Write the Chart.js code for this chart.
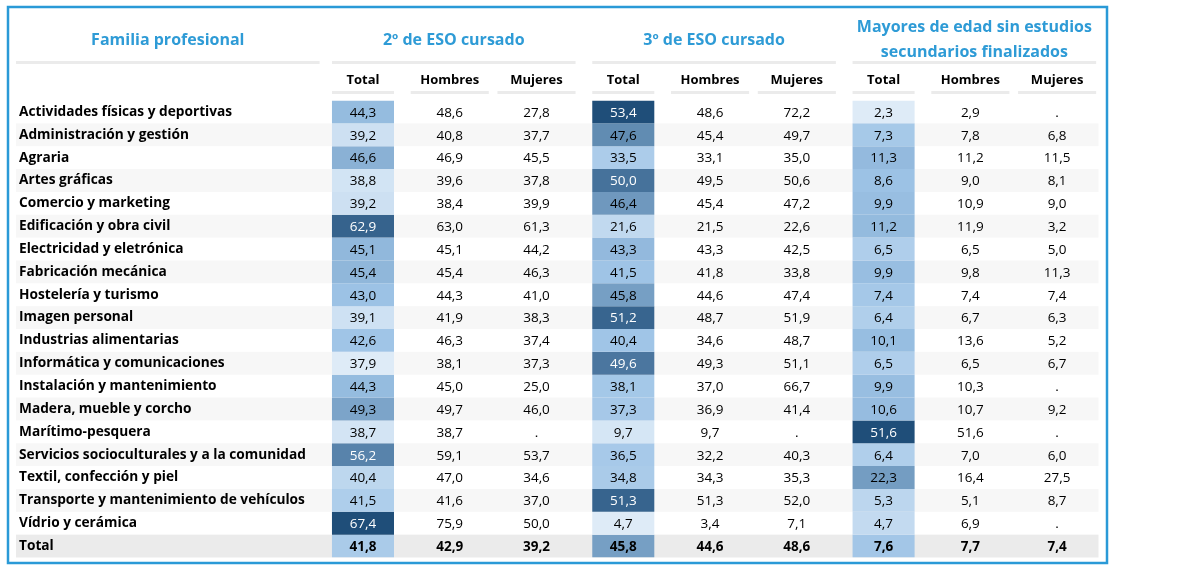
<!DOCTYPE html>
<html>
<head>
<meta charset="utf-8">
<script src="https://cdn.jsdelivr.net/npm/chart.js@4.4.1/dist/chart.umd.min.js"></script>
<style>
  html, body { margin: 0; padding: 0; background: #fff; }
  #wrap { width: 1180px; height: 572px; position: relative; }
</style>
</head>
<body>
<div id="wrap"><canvas id="tabla"></canvas></div>
<script>
// rows (familia profesional) + total
const familias = [
  'Actividades físicas y deportivas', 'Administración y gestión', 'Agraria', 'Artes gráficas',
  'Comercio y marketing', 'Edificación y obra civil', 'Electricidad y eletrónica', 'Fabricación mecánica',
  'Hostelería y turismo', 'Imagen personal', 'Industrias alimentarias', 'Informática y comunicaciones',
  'Instalación y mantenimiento', 'Madera, mueble y corcho', 'Marítimo-pesquera',
  'Servicios socioculturales y a la comunidad', 'Textil, confección y piel',
  'Transporte y mantenimiento de vehículos', 'Vídrio y cerámica', 'Total'
]
const columnas = ['Total', 'Hombres', 'Mujeres', 'Total', 'Hombres', 'Mujeres', 'Total', 'Hombres', 'Mujeres']
const grupos = [['2º de ESO cursado'], ['3º de ESO cursado'], ['Mayores de edad sin estudios', 'secundarios finalizados']]
const tituloFamilia = 'Familia profesional'

// null = '.' (sin dato)
const eso2Total   = [44.3, 39.2, 46.6, 38.8, 39.2, 62.9, 45.1, 45.4, 43.0, 39.1, 42.6, 37.9, 44.3, 49.3, 38.7, 56.2, 40.4, 41.5, 67.4, 41.8]
const eso2Hombres = [48.6, 40.8, 46.9, 39.6, 38.4, 63.0, 45.1, 45.4, 44.3, 41.9, 46.3, 38.1, 45.0, 49.7, 38.7, 59.1, 47.0, 41.6, 75.9, 42.9]
const eso2Mujeres = [27.8, 37.7, 45.5, 37.8, 39.9, 61.3, 44.2, 46.3, 41.0, 38.3, 37.4, 37.3, 25.0, 46.0, null, 53.7, 34.6, 37.0, 50.0, 39.2]
const eso3Total   = [53.4, 47.6, 33.5, 50.0, 46.4, 21.6, 43.3, 41.5, 45.8, 51.2, 40.4, 49.6, 38.1, 37.3, 9.7, 36.5, 34.8, 51.3, 4.7, 45.8]
const eso3Hombres = [48.6, 45.4, 33.1, 49.5, 45.4, 21.5, 43.3, 41.8, 44.6, 48.7, 34.6, 49.3, 37.0, 36.9, 9.7, 32.2, 34.3, 51.3, 3.4, 44.6]
const eso3Mujeres = [72.2, 49.7, 35.0, 50.6, 47.2, 22.6, 42.5, 33.8, 47.4, 51.9, 48.7, 51.1, 66.7, 41.4, null, 40.3, 35.3, 52.0, 7.1, 48.6]
const mayTotal    = [2.3, 7.3, 11.3, 8.6, 9.9, 11.2, 6.5, 9.9, 7.4, 6.4, 10.1, 6.5, 9.9, 10.6, 51.6, 6.4, 22.3, 5.3, 4.7, 7.6]
const mayHombres  = [2.9, 7.8, 11.2, 9.0, 10.9, 11.9, 6.5, 9.8, 7.4, 6.7, 13.6, 6.5, 10.3, 10.7, 51.6, 7.0, 16.4, 5.1, 6.9, 7.7]
const mayMujeres  = [null, 6.8, 11.5, 8.1, 9.0, 3.2, 5.0, 11.3, 7.4, 6.3, 5.2, 6.7, null, 9.2, null, 6.0, 27.5, 8.7, null, 7.4]

const cols = [eso2Total, eso2Hombres, eso2Mujeres, eso3Total, eso3Hombres, eso3Mujeres, mayTotal, mayHombres, mayMujeres]
const totalCols = [0, 3, 6]

const FONT = '"Open Sans", "Noto Sans", sans-serif'
const BLUE = '#2e9bd6'

// 3 colour scale like excel (min / median / max)
const cLow = [222, 235, 247], cMid = [157, 195, 230], cHigh = [31, 78, 121]
function scaleInfo(arr){
  const v = arr.filter(x => x != null).slice().sort((a,b)=>a-b)
  const n = v.length
  const med = n % 2 ? v[(n-1)/2] : (v[n/2-1] + v[n/2]) / 2
  return {min: v[0], med, max: v[n-1]}
}
function mix(a, b, t){ return a.map((x,i)=>Math.round(x + (b[i]-x)*t)) }
function cellT(v, s){
  return v <= s.med ? (v - s.min) / (s.med - s.min) - 1 : (v - s.med) / (s.max - s.med)
}
function cellColor(v, s){
  const t = cellT(v, s)
  const c = t < 0 ? mix(cLow, cMid, t + 1) : mix(cMid, cHigh, t)
  return `rgb(${c[0]},${c[1]},${c[2]})`
}
const scales = cols.map(scaleInfo)
const fmt = v => v == null ? '.' : v.toFixed(1).replace('.', ',')

// one floating-bar dataset per row, only the Total columns get a cell
const datasets = familias.map((f, i) => ({
  label: f,
  data: columnas.map((c, j) => totalCols.includes(j) ? [i, i + 1] : null),
  backgroundColor: columnas.map((c, j) => totalCols.includes(j) ? cellColor(cols[j][i], scales[j]) : 'rgba(0,0,0,0)'),
  borderWidth: 0,
  grouped: false,
  barPercentage: 0.715,
  categoryPercentage: 1
}))

const tablePlugin = {
  id: 'tablePlugin',
  // stripes and header rules go under the axis labels
  beforeDraw(chart){
    const {ctx, chartArea} = chart
    const x = chart.scales.x, y = chart.scales.y, rowLabels = chart.scales.rowLabels
    const left = rowLabels.left - 3, right = chartArea.right - 2
    ctx.save()
    familias.forEach((f, i) => {
      if(i % 2 === 0 && i !== familias.length - 1) return
      ctx.fillStyle = i === familias.length - 1 ? '#ebebeb' : '#f7f7f7'
      const t = y.getPixelForValue(i), b = y.getPixelForValue(i + 1)
      ctx.fillRect(left, t, right - left, b - t)
    })
    const w = x.getPixelForValue(1) - x.getPixelForValue(0)
    const cellW = w * 0.715
    ctx.fillStyle = '#ebebeb'
    const yg = chartArea.top - 39.5, ys = chartArea.top - 9.5
    ctx.fillRect(left, yg, chartArea.left - left, 3)
    grupos.forEach((g, k) => {
      const a = x.getPixelForValue(k * 3) - cellW / 2
      const b = x.getPixelForValue(k * 3 + 2) + w * 0.45
      ctx.fillRect(a, yg, b - a, 3)
    })
    columnas.forEach((c, j) => {
      const cx = x.getPixelForValue(j)
      const hw = totalCols.includes(j) ? cellW / 2 : w * 0.45
      ctx.fillRect(cx - hw, ys, hw * 2, 3)
    })
    // titles
    ctx.fillStyle = BLUE
    ctx.font = `bold 16px ${FONT}`
    ctx.textAlign = 'center'
    ctx.textBaseline = 'middle'
    ctx.fillText(tituloFamilia, (left + chartArea.left) / 2, chartArea.top - 60)
    grupos.forEach((g, k) => {
      const cx = (x.getPixelForValue(k * 3) + x.getPixelForValue(k * 3 + 2)) / 2 + 4
      if(g.length === 1) ctx.fillText(g[0], cx, chartArea.top - 60)
      else g.forEach((line, l) => ctx.fillText(line, cx, chartArea.top - 73 + l * 25))
    })
    ctx.restore()
  },
  afterDatasetsDraw(chart){
    const {ctx} = chart
    const x = chart.scales.x, y = chart.scales.y
    ctx.save()
    ctx.textAlign = 'center'
    ctx.textBaseline = 'middle'
    cols.forEach((arr, j) => {
      arr.forEach((v, i) => {
        const isTot = i === familias.length - 1
        ctx.font = `${isTot ? 'bold ' : ''}13.5px ${FONT}`
        let color = '#000'
        if(totalCols.includes(j) && v != null && cellT(v, scales[j]) > 0.525) color = '#fff'
        ctx.fillStyle = color
        ctx.fillText(fmt(v), x.getPixelForValue(j), y.getPixelForValue(i + 0.5) + 1)
      })
    })
    ctx.restore()
  },
  afterDraw(chart){
    const {ctx} = chart
    ctx.save()
    ctx.strokeStyle = '#2a9ad7'
    ctx.lineWidth = 2.5
    ctx.strokeRect(8, 7, 1099, 556)
    ctx.restore()
  }
}

new Chart(document.getElementById('tabla'), {
  type: 'bar',
  data: { labels: columnas, datasets },
  plugins: [tablePlugin],
  options: {
    responsive: true,
    maintainAspectRatio: false,
    animation: false,
    events: [],
    layout: { padding: { left: 19, right: 79.5, top: 0, bottom: 14.5 } },
    plugins: { legend: { display: false }, tooltip: { enabled: false } },
    scales: {
      x: {
        position: 'top',
        grid: { display: false, drawTicks: false },
        border: { display: false },
        ticks: { color: '#000', font: { family: FONT, size: 13, weight: 'bold' }, padding: 12, maxRotation: 0, autoSkip: false },
        afterFit: s => { s.height = 100.5 }
      },
      y: { type: 'linear', min: 0, max: familias.length, reverse: true, display: false },
      rowLabels: {
        type: 'category', axis: 'y', position: 'left', labels: familias, offset: true,
        grid: { display: false, drawTicks: false },
        border: { display: false },
        ticks: { color: '#000', font: { family: FONT, size: 13.7, weight: 'bold', lineHeight: 1.1 }, crossAlign: 'far', padding: 0, autoSkip: false },
        afterFit: s => { s.width = 300.6 }
      }
    }
  }
})
</script>
</body>
</html>
